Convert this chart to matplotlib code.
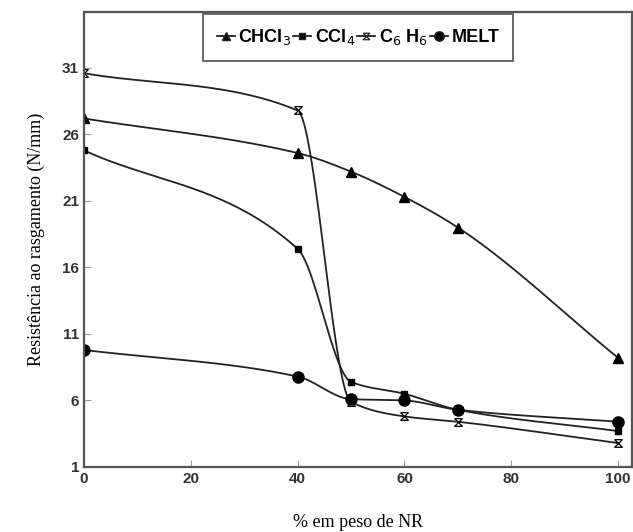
import numpy as np
import matplotlib.pyplot as plt

# data
nr = [0, 40, 50, 60, 70, 100]
chcl3 = [27.2, 24.6, 23.2, 21.3, 19.0, 9.2]
ccl4 = [24.8, 17.4, 7.4, 6.5, 5.3, 3.7]
c6h6 = [30.6, 27.8, 5.9, 4.8, 4.4, 2.8]
melt = [9.8, 7.8, 6.1, 6.0, 5.3, 4.4]

yticks = [1, 6, 11, 16, 21, 26, 31]
xticks = [0, 20, 40, 60, 80, 100]


def smooth(x, y, n=400):
    # monotone cubic (Fritsch-Carlson) so the curve passes through the points
    x = np.asarray(x, float)
    y = np.asarray(y, float)
    h = np.diff(x)
    d = np.diff(y) / h
    m = np.zeros_like(y)
    m[0], m[-1] = d[0], d[-1]
    for k in range(1, len(x) - 1):
        if d[k - 1] * d[k] > 0:
            w1 = 2 * h[k] + h[k - 1]
            w2 = h[k] + 2 * h[k - 1]
            m[k] = (w1 + w2) / (w1 / d[k - 1] + w2 / d[k])
    xs = np.linspace(x[0], x[-1], n)
    i = np.clip(np.searchsorted(x, xs) - 1, 0, len(x) - 2)
    t = (xs - x[i]) / h[i]
    h00 = 2 * t**3 - 3 * t**2 + 1
    h10 = t**3 - 2 * t**2 + t
    h01 = -2 * t**3 + 3 * t**2
    h11 = t**3 - t**2
    ys = h00 * y[i] + h10 * h[i] * m[i] + h01 * y[i + 1] + h11 * h[i] * m[i + 1]
    return xs, ys


hourglass = [(-1, 1), (1, 1), (-1, -1), (1, -1), (-1, 1)]

fig = plt.figure(figsize=(6.33, 5.32), dpi=100)
ax = fig.add_axes([0.1327, 0.1222, 0.8657, 0.8552])

series = [
    (chcl3, 'CHCl$_3$', dict(marker='^', ms=7, mfc='black')),
    (ccl4, 'CCl$_4$', dict(marker='s', ms=4.5, mfc='black')),
    (c6h6, 'C$_6$ H$_6$', dict(marker=hourglass, ms=5.5, mfc='none', mew=0.9)),
    (melt, 'MELT', dict(marker='o', ms=8, mfc='black')),
]

for vals, lab, mk in series:
    xs, ys = smooth(nr, vals)
    ax.plot(xs, ys, color='#222222', lw=1.3)
    ax.plot(nr, vals, ls='none', mec='black', **mk)
    ax.plot([], [], color='#222222', lw=1.3, label=lab, **mk)

ax.set_xlim(0, 102.6)
ax.set_ylim(1, 35.2)
ax.set_xticks(xticks)
ax.set_yticks(yticks)
ax.tick_params(direction='in', length=5, width=0.8, color='#999999', labelsize=11)
for lbl in ax.get_xticklabels() + ax.get_yticklabels():
    lbl.set_fontfamily('Liberation Sans')
    lbl.set_fontweight('bold')
    lbl.set_color('#333333')
for s in ax.spines.values():
    s.set_linewidth(1.6)
    s.set_color('#555555')

ax.set_xlabel('% em peso de NR', family='Liberation Serif', fontsize=13, labelpad=20)
ax.set_ylabel('Resistência ao rasgamento (N/mm)', family='Liberation Serif', fontsize=13, labelpad=12)

leg = ax.legend(loc='upper center', bbox_to_anchor=(0.5, 1.0), ncol=4, frameon=True,
                fancybox=False, edgecolor='#444444', handlelength=1.0, handletextpad=0.2,
                columnspacing=0.1, borderpad=0.75, borderaxespad=0.1, markerscale=0.85,
                prop={'family': 'Liberation Sans', 'weight': 'bold', 'size': 13})
leg.get_frame().set_linewidth(1.4)

fig.savefig('out.png', dpi=100)
